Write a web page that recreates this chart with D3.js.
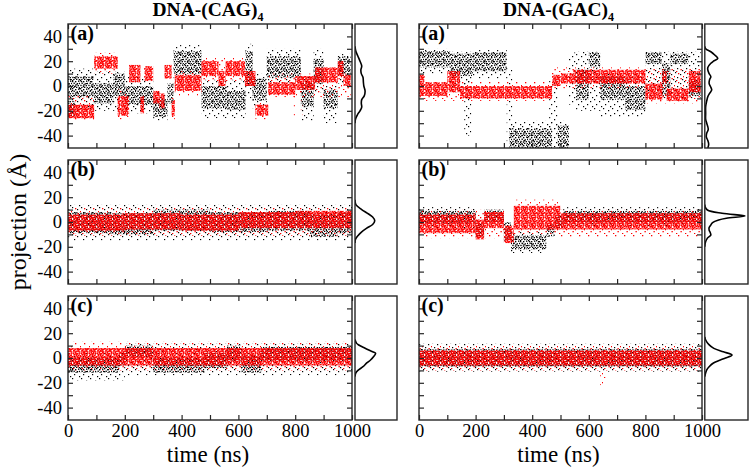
<!DOCTYPE html>
<html><head><meta charset="utf-8">
<script src="https://cdn.jsdelivr.net/npm/d3@7"></script>
<style>body{margin:0;background:#fff}svg{display:block}svg text{font-family:"Liberation Serif","Times New Roman",Times,serif}</style>
</head><body>
<script>
// ---------------- data ----------------
const timeTicks = [0, 200, 400, 600, 800, 1000];
const projTicks = [-40, -20, 0, 20, 40];
const columnTitles = ["DNA-(CAG)", "DNA-(GAC)"];
const rowLabels = ["(a)", "(b)", "(c)"];

// trajectory clouds: [t0 (ns), t1 (ns), low (Å), high (Å)]
const cagA_blackCore = [[0,90,-9,8],[0,25,-25,-12],[90,160,-14,2],[160,200,-8,10],[200,300,-15,0],[300,350,-25,-10],[350,372,-14,2],[372,470,10,28],[470,560,-18,0],[560,625,-19,-4],[625,650,0,28],[650,700,-12,6],[700,820,7,24],[820,865,-17,3],[865,900,2,22],[900,950,-18,-3],[950,995,8,24]];
const cagA_blackSparse = [[0,90,-22,14],[90,200,-20,12],[200,300,-22,8],[300,350,-28,-5],[372,470,4,33],[470,625,-26,5],[625,650,-10,34],[650,700,-18,10],[700,820,2,30],[820,865,-28,8],[865,900,-5,30],[900,950,-30,0],[950,995,2,26]];
const cagA_redCore = [[0,92,-26,-15],[92,175,14,24],[175,215,-24,-8],[215,255,3,17],[255,268,-22,-8],[268,300,4,16],[300,322,-14,-4],[322,340,-18,-6],[340,365,6,17],[365,376,-24,-12],[376,470,-4,9],[470,530,8,20],[530,555,0,12],[555,623,8,20],[623,660,0,12],[660,705,-24,-15],[705,800,-7,3],[800,870,-3,8],[870,950,3,15],[950,970,8,20],[970,995,0,9]];
const cagA_redSparse = [[0,92,-28,-8],[92,175,10,27],[175,215,-27,-3],[365,376,-27,-8],[376,470,-8,12],[470,623,4,23],[660,705,-27,-13],[795,802,-24,-4],[820,826,-24,-4],[705,995,-9,10]];

const gacA_blackCore = [[0,110,15,28],[110,190,8,26],[190,310,12,27],[320,470,-50,-34],[490,530,-50,-32],[555,600,-11,13],[600,640,15,27],[640,728,-11,8],[728,800,-19,0],[800,858,18,27],[858,888,-8,18],[888,953,18,26],[953,995,-8,5]];
const gacA_blackSparse = [[0,110,10,30],[110,190,-5,28],[160,185,-40,5],[190,310,6,29],[310,330,-45,15],[320,530,-50,-28],[460,490,-35,5],[530,555,-15,27],[555,640,-20,28],[640,800,-25,10],[800,995,-10,28]];
const gacA_redCore = [[0,100,-8,3],[0,20,3,9],[100,145,-5,12],[145,470,-10,0],[470,500,0,9],[500,545,2,10],[545,800,2,13],[800,860,-11,2],[860,875,2,12],[875,953,-12,-2],[953,995,-5,12]];
const gacA_redSparse = [[0,470,-12,4],[470,800,-2,15],[800,995,-14,14]];

const cagB_blackCore = [[0,150,-9,8],[150,300,-10,7],[300,500,-7,10],[500,700,-8,8],[700,850,-7,9],[850,950,-12,6],[950,1000,-9,8]];
const cagB_blackSparse = [[0,1000,-15,14]];
const cagB_redCore = [[0,200,-7,6],[200,400,-6,7],[400,600,-7,6],[600,800,-5,8],[800,1000,-5,9]];
const cagB_redSparse = [[0,1000,-11,12]];

const gacB_blackCore = [[0,200,-1,9],[200,230,-12,-1],[230,300,0,10],[300,325,-15,0],[325,450,-22,-11],[450,480,-12,-2],[480,510,-5,5],[510,1000,0,9]];
const gacB_blackSparse = [[0,200,-5,12],[325,450,-25,-8],[510,1000,-4,12]];
const gacB_redCore = [[0,200,-9,6],[200,230,-14,2],[230,300,-5,8],[300,335,-17,-3],[335,500,-6,13],[500,1000,-6,7]];
const gacB_redSparse = [[0,300,-13,10],[335,500,-10,18],[500,1000,-12,10]];

const cagC_blackCore = [[0,180,-12,0],[180,200,-6,4],[200,300,1,10],[300,480,-12,0],[480,560,-8,4],[560,610,-2,10],[610,680,-12,2],[680,1000,-2,9]];
const cagC_blackSparse = [[0,200,-18,4],[200,1000,-14,12]];
const cagC_redCore = [[0,1000,-6,8]];
const cagC_redSparse = [[0,1000,-10,13]];

const gacC_blackCore = [[0,1000,-7,7]];
const gacC_blackSparse = [[0,1000,-11,12]];
const gacC_redCore = [[0,1000,-6,6]];
const gacC_redSparse = [[0,1000,-10,10],[640,660,-22,-8]];

// marginal distributions: [projection (Å), density (% of panel width)]
const cagA_hist = [[32,0],[28,2],[24,7],[20,12],[16,16],[13,14],[10,15],[7,19],[3,20],[0,21],[-4,24],[-8,22],[-11,16],[-14,15],[-17,16],[-20,12],[-23,6],[-27,1],[-30,0]];
const cagB_hist = [[18,0],[14,2],[10,16],[7,30],[4,42],[1,47],[-2,42],[-5,28],[-8,16],[-11,7],[-14,1],[-17,0]];
const cagC_hist = [[15,0],[12,3.5],[10.5,9],[8,23],[5,42],[3.8,49],[1,44],[-1.6,37],[-4,28],[-7,19],[-10,7],[-12,2],[-15,0]];
const gacA_hist = [[32,0],[30,2],[27.6,14],[25,23],[22.3,30],[20,20],[18.3,14],[15,7],[12.9,7],[10,10],[7.5,14],[5,11],[2.2,10],[-1,14],[-3.2,16],[-6,11],[-8.6,7],[-12,4.5],[-16.7,2],[-22,2],[-27,2],[-30,4.5],[-35,8],[-38,4.5],[-41,3.5],[-44,7],[-47,9],[-50,7]];
const gacB_hist = [[14,0],[12,1],[9.7,6],[7,40],[4.8,93],[3,50],[1.6,32],[-0.5,18],[-2.4,14],[-4.5,10],[-6.5,10],[-8.5,12.5],[-10.5,14],[-13,6],[-17,1],[-20,0]];
const gacC_hist = [[17,0],[14.5,2],[11,9],[7.8,21],[5,43],[2.4,63],[0,48],[-1.6,36],[-4,20],[-7,10],[-9.5,4.5],[-12,2],[-15,0]];

// ---------------- layout ----------------
const W = 750, H = 470;
const cols = [{x0:68, x1:352, h0:355, h1:397}, {x0:419, x1:702, h0:704.8, h1:748}];
const rowTops = [24, 160, 296];
const PH = 124;
const FONT = '"Liberation Serif","Times New Roman",Times,serif';
const FRAME = "#262626";

const panels = [
  [
    {bc:cagA_blackCore, bs:cagA_blackSparse, rc:cagA_redCore, rs:cagA_redSparse, hist:cagA_hist},
    {bc:cagB_blackCore, bs:cagB_blackSparse, rc:cagB_redCore, rs:cagB_redSparse, hist:cagB_hist},
    {bc:cagC_blackCore, bs:cagC_blackSparse, rc:cagC_redCore, rs:cagC_redSparse, hist:cagC_hist}
  ],
  [
    {bc:gacA_blackCore, bs:gacA_blackSparse, rc:gacA_redCore, rs:gacA_redSparse, hist:gacA_hist},
    {bc:gacB_blackCore, bs:gacB_blackSparse, rc:gacB_redCore, rs:gacB_redSparse, hist:gacB_hist},
    {bc:gacC_blackCore, bs:gacC_blackSparse, rc:gacC_redCore, rs:gacC_redSparse, hist:gacC_hist}
  ]
];

const svg = d3.select("body").append("svg").attr("width", W).attr("height", H)
  .attr("font-family", FONT);
const defs = svg.append("defs");

// dot textures (styling)
function makePattern(id, size, pts, r, color) {
  const p = defs.append("pattern").attr("id", id).attr("patternUnits", "userSpaceOnUse")
    .attr("width", size).attr("height", size);
  pts.forEach(q => p.append("rect").attr("x", q[0]).attr("y", q[1]).attr("width", r).attr("height", r).attr("fill", color));
}
makePattern("blkCore", 8, [[0,0],[3,1],[6,0.5],[1.5,2.6],[4.6,3.2],[7,2.8],[0.3,4.8],[2.8,5.4],[5.6,5],[1.2,7],[4,6.8],[6.7,7.1],[3.4,4.1]], 1.35, "#000");
makePattern("redCore", 8, [[0.5,0.3],[2.5,0],[4.5,0.8],[6.6,0.2],[1.4,2],[3.6,2.3],[5.6,2.6],[7.3,2],[0,4],[2.2,4.3],[4.3,4],[6.3,4.5],[1.2,6],[3.2,6.5],[5.4,6.2],[7.2,6.6],[0.3,7.5],[2.4,7.6],[4.5,7.3],[6.4,7.8],[3.3,1.2],[5.2,4.9]], 1.7, "#ff0000");
makePattern("blkSparse", 9, [[0,0],[5,2],[2,5],[7,7]], 1.2, "#000");
makePattern("redSparse", 9, [[3,1],[8,4],[1,8],[5.5,6]], 1.3, "#ff0000");

const fmt = d => (d < 0 ? "-" + Math.abs(d) : String(d));

cols.forEach((c, ci) => {
  const x = d3.scaleLinear().domain([0, 1000]).range([c.x0, c.x1]);
  rowTops.forEach((top, ri) => {
    const y = d3.scaleLinear().domain([-50, 50]).range([top + PH, top]);
    const pd = panels[ci][ri];
    const g = svg.append("g");
    const cid = "clip" + ci + ri;
    defs.append("clipPath").attr("id", cid).append("rect")
      .attr("x", c.x0).attr("y", top).attr("width", c.x1 - c.x0).attr("height", PH);
    const cloud = g.append("g").attr("clip-path", `url(#${cid})`);
    const drawSegs = (data, fill) => cloud.append("g").selectAll("rect").data(data).join("rect")
      .attr("x", d => x(d[0])).attr("width", d => x(d[1]) - x(d[0]))
      .attr("y", d => y(d[3])).attr("height", d => y(d[2]) - y(d[3]))
      .attr("fill", fill);
    drawSegs(pd.bs, "url(#blkSparse)");
    drawSegs(pd.bc, "url(#blkCore)");
    drawSegs(pd.rs, "url(#redSparse)");
    drawSegs(pd.rc, "url(#redCore)");

    // axes with inward ticks
    const xMinor = d3.range(0, 1001, 100);
    const yMinor = d3.range(-40, 41, 10);
    const bottom = g.append("g").attr("transform", `translate(0,${top + PH})`)
      .call(d3.axisBottom(x).tickValues(xMinor).tickSize(-5)
        .tickFormat(d => (ri === 2 && timeTicks.includes(d)) ? String(d) : ""));
    const topAx = g.append("g").attr("transform", `translate(0,${top})`)
      .call(d3.axisTop(x).tickValues(xMinor).tickSize(-5).tickFormat(""));
    const left = g.append("g").attr("transform", `translate(${c.x0},0)`)
      .call(d3.axisLeft(y).tickValues(yMinor).tickSize(-5)
        .tickFormat(d => (ci === 0 && projTicks.includes(d)) ? fmt(d) : ""));
    const right = g.append("g").attr("transform", `translate(${c.x1},0)`)
      .call(d3.axisRight(y).tickValues(yMinor).tickSize(-5).tickFormat(""));
    [bottom, topAx, left, right].forEach(a => {
      a.attr("font-family", FONT).attr("font-size", 18.5);
      a.select(".domain").remove();
      a.selectAll(".tick line").attr("stroke", FRAME).attr("stroke-width", 1.2);
      a.selectAll("text").attr("font-family", FONT).attr("font-size", 18.5).attr("fill", "#000");
    });
    bottom.selectAll("text").attr("dy", null).attr("y", 17);
    left.selectAll("text").attr("x", -6);
    [bottom, topAx, left, right].forEach(a => a.selectAll("text").filter(function(){ return this.textContent === ""; }).remove());

    g.append("rect").attr("x", c.x0).attr("y", top).attr("width", c.x1 - c.x0).attr("height", PH)
      .attr("fill", "none").attr("stroke", FRAME).attr("stroke-width", 1.4);

    g.append("text").attr("x", c.x0 + 2.5).attr("y", top + 16).attr("font-family", FONT)
      .attr("font-weight", "bold").attr("font-size", 20).text(rowLabels[ri]);

    // marginal distribution panel
    const hx = d3.scaleLinear().domain([0, 100]).range([c.h0, c.h1]);
    const hc = "hclip" + ci + ri;
    defs.append("clipPath").attr("id", hc).append("rect")
      .attr("x", c.h0).attr("y", top).attr("width", c.h1 - c.h0).attr("height", PH);
    g.append("path").datum(pd.hist).attr("clip-path", `url(#${hc})`)
      .attr("d", d3.line().x(d => hx(d[1])).y(d => y(d[0])).curve(d3.curveCatmullRom))
      .attr("fill", "none").attr("stroke", "#000").attr("stroke-width", 1.6);
    g.append("rect").attr("x", c.h0).attr("y", top).attr("width", c.h1 - c.h0).attr("height", PH)
      .attr("fill", "none").attr("stroke", FRAME).attr("stroke-width", 1.4);
  });

  // column title
  const t = svg.append("text").attr("x", (c.x0 + c.x1) / 2 - 2).attr("y", 16).attr("font-family", FONT)
    .attr("text-anchor", "middle").attr("font-weight", "bold").attr("font-size", 19.5);
  t.append("tspan").text(columnTitles[ci]);
  t.append("tspan").attr("font-size", 12).attr("dy", 5).text("4");

  svg.append("text").attr("x", (c.x0 + c.x1) / 2 - 2).attr("y", 462).attr("font-family", FONT)
    .attr("text-anchor", "middle").attr("font-size", 23).text("time (ns)");
});

svg.append("text").attr("transform", `translate(26,${rowTops[1] + PH / 2}) rotate(-90)`)
  .attr("font-family", FONT).attr("text-anchor", "middle").attr("font-size", 24).text("projection (Å)");
</script>
</body></html>
